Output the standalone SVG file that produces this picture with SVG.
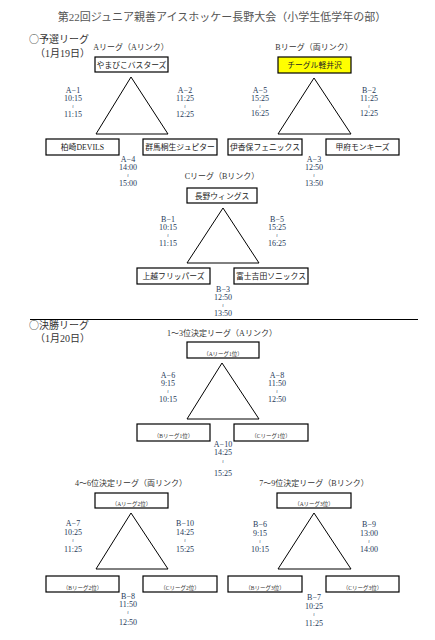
<svg xmlns="http://www.w3.org/2000/svg" width="435" height="640" viewBox="0 0 435 640">
<style>
text{font-family:"Liberation Serif","Noto Sans CJK JP",serif;text-anchor:middle}
.title{font-size:11px;fill:#555}
.sec{font-size:10px;fill:#333;text-anchor:start}
.circ{font-family:"Noto Sans CJK JP",sans-serif}
.lg{font-size:8px;fill:#333}
.team{font-size:7.8px;fill:#222}
.ph{font-size:5.5px;fill:#333}
.lbl{font-size:8px;fill:#263859}
.w{font-family:"DejaVu Serif","DejaVu Sans",serif;font-size:5px;fill:#263859}
.box{fill:#fff;stroke:#000;stroke-width:1.2}
.yel{fill:#ffff00;stroke:#000;stroke-width:1.2}
.tri{fill:none;stroke:#000;stroke-width:1}
</style>
<rect width="435" height="640" fill="#fff"/>
<text class="title" x="222" y="21">第22回ジュニア親善アイスホッケー長野大会（小学生低学年の部）</text>
<text class="sec" x="29" y="43"><tspan class="circ">○</tspan>予選リーグ</text>
<text class="sec" x="35" y="57">（1月19日）</text>
<text class="lg" x="131" y="50">Aリーグ（Aリンク）</text>
<text class="lg" x="314" y="50">Bリーグ（両リンク）</text>
<text class="lg" x="222" y="179">Cリーグ（Bリンク）</text>
<text class="sec" x="29" y="329"><tspan class="circ">○</tspan>決勝リーグ</text>
<text class="sec" x="35" y="342">（1月20日）</text>
<text class="lg" x="222" y="336">1〜3位決定リーグ（Aリンク）</text>
<text class="lg" x="131" y="486">4〜6位決定リーグ（両リンク）</text>
<text class="lg" x="314" y="486">7〜9位決定リーグ（Bリンク）</text>

<g id="connectors">
<polygon class="tri" points="131,77 96,134 168,134"/>
<polygon class="tri" points="314,78 278,134 351,134"/>
<polygon class="tri" points="223,208 187,263 259,263"/>
<polygon class="tri" points="222,363 187,419 259,419"/>
<polygon class="tri" points="131,513 96,569 168,569"/>
<polygon class="tri" points="314,513 278,569 351,569"/>
<line x1="30" y1="319.5" x2="418" y2="319.5" stroke="#000" stroke-width="1"/>
</g>

<g id="n-yamabiko"><rect class="box" x="95" y="57" width="73" height="15"/><text class="team" x="131.5" y="67.5">やまびこバスターズ</text></g>
<g id="n-kashiwazaki"><rect class="box" x="46" y="139" width="73" height="16"/><text class="team" x="82.5" y="150">柏崎DEVILS</text></g>
<g id="n-gunma"><rect class="box" x="143" y="139" width="74" height="16"/><text class="team" x="180" y="150">群馬桐生ジュピター</text></g>
<g id="n-eagle"><rect class="yel" x="278" y="57" width="73" height="16"/><text class="team" x="314.5" y="68">チーグル軽井沢</text></g>
<g id="n-ikaho"><rect class="box" x="228" y="139" width="74" height="16"/><text class="team" x="265" y="150">伊香保フェニックス</text></g>
<g id="n-kofu"><rect class="box" x="326" y="139" width="73" height="16"/><text class="team" x="362.5" y="150">甲府モンキーズ</text></g>
<g id="n-nagano"><rect class="box" x="187" y="188" width="70" height="15"/><text class="team" x="222" y="198.5">長野ウィングス</text></g>
<g id="n-joetsu"><rect class="box" x="137" y="268" width="73" height="16"/><text class="team" x="173.5" y="279">上越フリッパーズ</text></g>
<g id="n-fuji"><rect class="box" x="234" y="268" width="74" height="16"/><text class="team" x="271" y="279">富士吉田ソニックス</text></g>

<g id="n-a1"><rect class="box" x="187" y="342" width="72" height="16"/><text class="ph" x="223" y="356">（Aリーグ1位）</text></g>
<g id="n-b1"><rect class="box" x="137" y="424" width="73" height="17"/><text class="ph" x="173.5" y="438">（Bリーグ1位）</text></g>
<g id="n-c1"><rect class="box" x="234" y="424" width="74" height="17"/><text class="ph" x="271" y="438">（Cリーグ1位）</text></g>
<g id="n-a2"><rect class="box" x="95" y="493" width="73" height="15"/><text class="ph" x="131.5" y="506">（Aリーグ2位）</text></g>
<g id="n-b2"><rect class="box" x="46" y="576" width="73" height="16"/><text class="ph" x="82.5" y="590">（Bリーグ2位）</text></g>
<g id="n-c2"><rect class="box" x="143" y="576" width="74" height="16"/><text class="ph" x="180" y="590">（Cリーグ2位）</text></g>
<g id="n-a3"><rect class="box" x="277" y="493" width="74" height="15"/><text class="ph" x="314" y="506">（Aリーグ3位）</text></g>
<g id="n-b3"><rect class="box" x="228" y="576" width="74" height="16"/><text class="ph" x="265" y="590">（Bリーグ3位）</text></g>
<g id="n-c3"><rect class="box" x="326" y="576" width="73" height="16"/><text class="ph" x="362.5" y="590">（Cリーグ3位）</text></g>

<g id="labels">
<text class="lbl" x="73" y="93">A−1</text><text class="lbl" x="73" y="101">10:15</text><text class="w" x="73" y="107.5">≀</text><text class="lbl" x="73" y="117">11:15</text>
<text class="lbl" x="185" y="93">A−2</text><text class="lbl" x="185" y="101">11:25</text><text class="w" x="185" y="107.5">≀</text><text class="lbl" x="185" y="117">12:25</text>
<text class="lbl" x="128" y="162">A−4</text><text class="lbl" x="128" y="170">14:00</text><text class="w" x="128" y="176.5">≀</text><text class="lbl" x="128" y="186">15:00</text>
<text class="lbl" x="260" y="93">A−5</text><text class="lbl" x="260" y="101">15:25</text><text class="w" x="260" y="107.5">≀</text><text class="lbl" x="260" y="116">16:25</text>
<text class="lbl" x="369" y="93">B−2</text><text class="lbl" x="369" y="101">11:25</text><text class="w" x="369" y="107.5">≀</text><text class="lbl" x="369" y="116">12:25</text>
<text class="lbl" x="314" y="162">A−3</text><text class="lbl" x="314" y="170">12:50</text><text class="w" x="314" y="176.5">≀</text><text class="lbl" x="314" y="186">13:50</text>
<text class="lbl" x="168" y="222">B−1</text><text class="lbl" x="168" y="230">10:15</text><text class="w" x="168" y="236.5">≀</text><text class="lbl" x="168" y="246">11:15</text>
<text class="lbl" x="277" y="222">B−5</text><text class="lbl" x="277" y="230">15:25</text><text class="w" x="277" y="236.5">≀</text><text class="lbl" x="277" y="246">16:25</text>
<text class="lbl" x="223" y="292">B−3</text><text class="lbl" x="223" y="300">12:50</text><text class="w" x="223" y="306.5">≀</text><text class="lbl" x="223" y="316">13:50</text>
<text class="lbl" x="168" y="378">A−6</text><text class="lbl" x="168" y="386">9:15</text><text class="w" x="168" y="392.5">≀</text><text class="lbl" x="168" y="402">10:15</text>
<text class="lbl" x="277" y="378">A−8</text><text class="lbl" x="277" y="386">11:50</text><text class="w" x="277" y="392.5">≀</text><text class="lbl" x="277" y="402">12:50</text>
<text class="lbl" x="223" y="447">A−10</text><text class="lbl" x="223" y="455">14:25</text><text class="w" x="223" y="463">≀</text><text class="lbl" x="223" y="476">15:25</text>
<text class="lbl" x="73" y="526">A−7</text><text class="lbl" x="73" y="535">10:25</text><text class="w" x="73" y="541.5">≀</text><text class="lbl" x="73" y="552">11:25</text>
<text class="lbl" x="185" y="526">B−10</text><text class="lbl" x="185" y="535">14:25</text><text class="w" x="185" y="541.5">≀</text><text class="lbl" x="185" y="552">15:25</text>
<text class="lbl" x="128" y="599">B−8</text><text class="lbl" x="128" y="607">11:50</text><text class="w" x="128" y="614">≀</text><text class="lbl" x="128" y="625">12:50</text>
<text class="lbl" x="260" y="527">B−6</text><text class="lbl" x="260" y="536">9:15</text><text class="w" x="260" y="542.5">≀</text><text class="lbl" x="260" y="552">10:15</text>
<text class="lbl" x="369" y="527">B−9</text><text class="lbl" x="369" y="536">13:00</text><text class="w" x="369" y="542.5">≀</text><text class="lbl" x="369" y="552">14:00</text>
<text class="lbl" x="314" y="600">B−7</text><text class="lbl" x="314" y="609">10:25</text><text class="w" x="314" y="615.5">≀</text><text class="lbl" x="314" y="626">11:25</text>
</g>
</svg>
